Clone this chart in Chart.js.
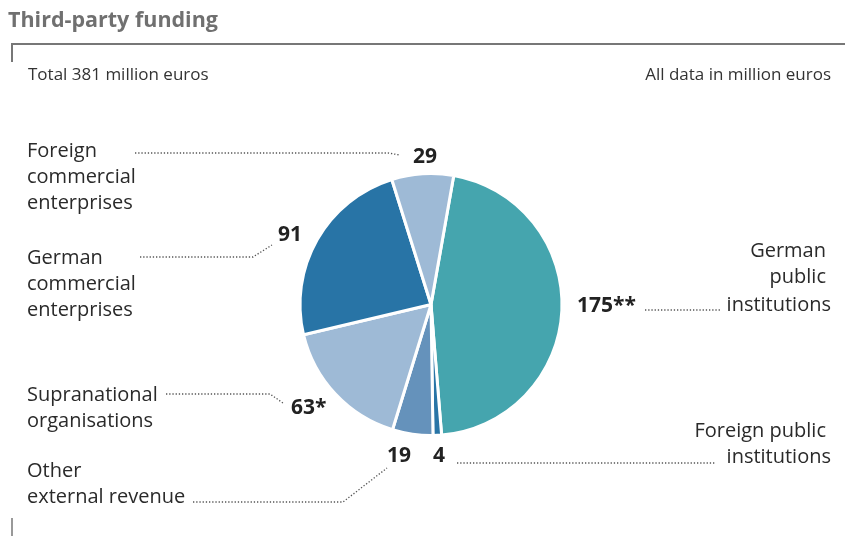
<!DOCTYPE html>
<html>
<head>
<meta charset="utf-8">
<script src="https://cdn.jsdelivr.net/npm/chart.js@4.4.0/dist/chart.umd.min.js"></script>
<style>
  html, body { margin: 0; padding: 0; background: #fff; }
  #wrap { position: relative; width: 845px; height: 536px; }
</style>
</head>
<body>
<div id="wrap"><canvas id="myChart" width="845" height="536"></canvas></div>
<script>
// --- data
const categories = ['German public institutions', 'Foreign public institutions', 'Other external revenue',
                    'Supranational organisations', 'German commercial enterprises', 'Foreign commercial enterprises'];
const values = [175, 4, 19, 63, 91, 29];
const valueLabels = ['175**', '4', '19', '63*', '91', '29'];
const sliceColors = ['#45a5ae', '#2874a6', '#6592bb', '#9ebad6', '#2874a6', '#9ebad6'];

const titleText = 'Third-party funding';
const totalText = 'Total 381 million euros';
const unitText = 'All data in million euros';

// --- label layout (per slice, same order as values)
const labelLayout = [
    { lines: ['German', 'public', 'institutions'], align: 'right', x: [826, 826, 831], y: [257, 283, 311],
      value: [577, 312], leader: [[645, 310], [720, 310]] },
    { lines: ['Foreign public', 'institutions'], align: 'right', x: [826, 831], y: [437, 463],
      value: [433, 462], leader: [[457, 463], [716, 463]] },
    { lines: ['Other', 'external revenue'], align: 'left', x: [27, 27], y: [477, 503],
      value: [387, 462], leader: [[193, 502], [343, 502], [387, 468]] },
    { lines: ['Supranational', 'organisations'], align: 'left', x: [27, 27], y: [401, 427],
      value: [291, 414], leader: [[166, 394], [270, 394], [283, 403]] },
    { lines: ['German', 'commercial', 'enterprises'], align: 'left', x: [27, 27, 27], y: [264, 290, 316],
      value: [278, 241], leader: [[140, 257], [253, 257], [272, 245]] },
    { lines: ['Foreign', 'commercial', 'enterprises'], align: 'left', x: [27, 27, 27], y: [157, 183, 209],
      value: [413, 163], leader: [[135, 153], [388, 153], [400, 155]] }
];

const FONT = '"Open Sans", "Noto Sans", sans-serif';

const annotations = {
    id: 'annotations',
    afterDraw(chart) {
        const c = chart.ctx;
        c.save();
        // header
        c.fillStyle = '#707070';
        c.font = 'bold 21.5px ' + FONT;
        c.textAlign = 'left';
        c.textBaseline = 'alphabetic';
        c.fillText(titleText, 8, 27);

        c.strokeStyle = '#777';
        c.lineWidth = 2;
        c.beginPath();
        c.moveTo(845, 44);
        c.lineTo(12, 44);
        c.lineTo(12, 62);
        c.stroke();
        c.lineWidth = 1.5;
        c.beginPath();
        c.moveTo(12, 518);
        c.lineTo(12, 536);
        c.stroke();

        c.fillStyle = '#333';
        c.font = '17px ' + FONT;
        c.fillText(totalText, 28, 80);
        c.textAlign = 'right';
        c.fillText(unitText, 831, 80);

        // category labels, values, leader lines
        labelLayout.forEach(function (item, i) {
            c.fillStyle = '#2a2a2a';
            c.font = '20px ' + FONT;
            c.textAlign = item.align;
            item.lines.forEach(function (line, j) {
                c.fillText(line, item.x[j], item.y[j]);
            });
            c.font = 'bold 21px ' + FONT;
            c.textAlign = 'left';
            c.fillStyle = '#222';
            c.fillText(valueLabels[i], item.value[0], item.value[1]);

            c.strokeStyle = '#555';
            c.lineWidth = 1.3;
            c.setLineDash([1.3, 1.9]);
            c.beginPath();
            item.leader.forEach(function (p, k) {
                if (k === 0) c.moveTo(p[0], p[1]); else c.lineTo(p[0], p[1]);
            });
            c.stroke();
            c.setLineDash([]);
        });
        c.restore();
    }
};

const ctx = document.getElementById('myChart');
new Chart(ctx, {
    type: 'pie',
    data: {
        labels: categories,
        datasets: [{
            data: values,
            backgroundColor: sliceColors,
            borderColor: '#ffffff',
            borderWidth: 3
        }]
    },
    options: {
        responsive: false,
        animation: false,
        rotation: 10,
        layout: { padding: { left: 298.5, right: 281.5, top: 172, bottom: 99 } },
        plugins: {
            legend: { display: false },
            tooltip: { enabled: false }
        }
    },
    plugins: [annotations]
});
</script>
</body>
</html>
